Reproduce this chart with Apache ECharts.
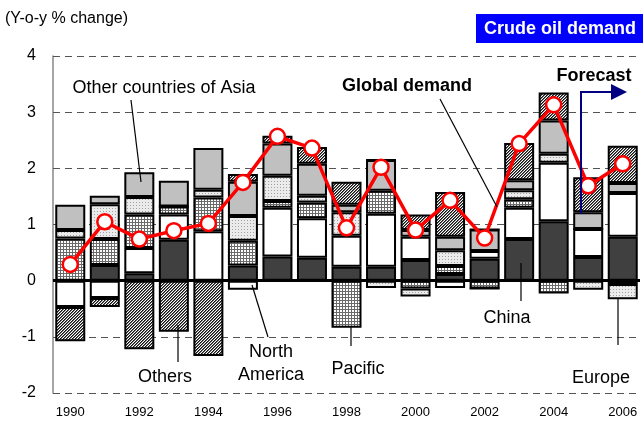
<!DOCTYPE html>
<html><head><meta charset="utf-8">
<script src="https://cdn.jsdelivr.net/npm/echarts@6/dist/echarts.min.js"></script>
<style>html,body{margin:0;padding:0;background:#fff}#c{width:643px;height:425px}</style>
</head><body><div id="c"></div>
<script>
const years = ['1990','1991','1992','1993','1994','1995','1996','1997','1998','1999','2000','2001','2002','2003','2004','2005','2006'];
const china      = [0.00, 0.28, 0.13, 0.73, 0.00, 0.27, 0.43, 0.41, 0.25, 0.25, 0.37, 0.12, 0.39, 0.74, 1.06, 0.42, 0.78];
const northAm    = [-0.47,-0.31, 0.45, 0.45, 0.88,-0.16, 0.87, 0.70, 0.55, 0.94, 0.41,-0.13, 0.14, 0.56, 1.04, 0.50, 0.78];
const pacific    = [0.75, 0.46, 0.60, 0.14, 0.60, 0.44, 0.12, 0.28,-0.84, 0.41,-0.14, 0.14,-0.14, 0.15,-0.23, 0.00,-0.06];
const europe     = [0.15, 0.62, 0.31, 0.00, 0.14, 0.44, 0.45, 0.12, 0.42,-0.13,-0.14, 0.28, 0.00, 0.16, 0.16,-0.16,-0.27];
const otherAsia  = [0.45, 0.15, 0.44, 0.46, 0.74, 0.61, 0.57, 0.57, 0.13, 0.55, 0.12, 0.24, 0.38, 0.18, 0.59, 0.30, 0.18];
const others     = [-0.61,-0.16,-1.22,-0.91,-1.34, 0.14, 0.14, 0.30, 0.41, 0.00, 0.28, 0.80, 0.00, 0.66, 0.50, 0.62, 0.66];
const globalDemand = [0.29, 1.05, 0.74, 0.89, 1.02, 1.75, 2.57, 2.36, 0.94, 2.02, 0.90, 1.43, 0.76, 2.44, 3.13, 1.69, 2.08];
const yTicks = [-2, -1, 0, 1, 2, 3, 4];

function pat(kind){
  const c = document.createElement('canvas');
  const x = c.getContext('2d');
  if(kind==='hatch'){
    c.width=3;c.height=3;
    x.fillStyle='#fff';x.fillRect(0,0,3,3);
    x.fillStyle='#111';
    [[2,0],[1,1],[0,2]].forEach(p=>x.fillRect(p[0],p[1],1,1));
    x.fillStyle='#6e6e6e';
    [[0,0],[2,1],[1,2]].forEach(p=>x.fillRect(p[0],p[1],1,1));
  } else if(kind==='grid'){
    c.width=3;c.height=3;
    x.fillStyle='#fff';x.fillRect(0,0,3,3);
    x.fillStyle='#6a6a6a';x.fillRect(0,0,3,1);x.fillRect(0,0,1,3);
  } else {
    c.width=3;c.height=3;
    x.fillStyle='#ebebeb';x.fillRect(0,0,3,3);
    x.fillStyle='#a0a0a0';x.fillRect(1,1,1,1);
  }
  return {image:c, repeat:'repeat'};
}

const chart = echarts.init(document.getElementById('c'), null, {renderer:'canvas'});
const bw = 30;
function barSeries(name, data, color){
  return {name, type:'bar', stack:'a', stackStrategy:'samesign', data, barWidth:bw,
    itemStyle:{color, borderColor:'#000', borderWidth:2}, z:2, animation:false};
}
const series = [
  barSeries('China', china, '#404040'),
  barSeries('North America', northAm, '#ffffff'),
  barSeries('Pacific', pacific, pat('grid')),
  barSeries('Europe', europe, pat('dot')),
  barSeries('Other countries of Asia', otherAsia, '#c0c0c0'),
  barSeries('Others', others, pat('hatch')),
  {name:'Global demand', type:'line', data:globalDemand, z:5, symbol:'circle', symbolSize:15,
   lineStyle:{color:'#ff0000', width:3.5}, itemStyle:{color:'#fff', borderColor:'#ff0000', borderWidth:2.5},
   animation:false,
   markLine:{silent:true, symbol:'none', label:{show:false}, data:[{yAxis:0}],
     lineStyle:{color:'#000', width:3, type:'solid'}, z:3}}
];

const F = 'Liberation Sans, Arial, sans-serif';
const lineStyle = {stroke:'#000', lineWidth:1.2};
function seg(x1,y1,x2,y2,style){return {type:'line', shape:{x1,y1,x2,y2}, style:style||lineStyle, z:10};}
function txt(x,y,t,opt){return {type:'text', x, y, style:Object.assign({text:t, font:'18px '+F, fill:'#000', textAlign:'center', textVerticalAlign:'middle'}, opt||{}), z:10};}

chart.setOption({
  animation:false,
  grid:{left:53, right:3, top:56, bottom:32},
  xAxis:{type:'category', data:years, axisLine:{show:false}, axisTick:{show:false},
    axisLabel:{interval:1, fontSize:13, fontFamily:F, color:'#000', margin:13}},
  yAxis:{type:'value', min:-2, max:4, interval:1,
    axisLine:{show:true, lineStyle:{color:'#888', width:1.5}},
    axisTick:{show:true, inside:true, length:5, lineStyle:{color:'#555'}},
    axisLabel:{fontSize:16, fontFamily:F, color:'#000', margin:17},
    splitLine:{show:true, lineStyle:{color:'#555', type:[7,5], width:1}}},
  series,
  graphic:[
    txt(5,19,'(Y-o-y % change)',{font:'16px '+F, textAlign:'left'}),
    {type:'rect', shape:{x:476,y:14,width:167,height:29}, style:{fill:'#0000ff'}, z:10},
    txt(560,29,'Crude oil demand',{font:'bold 18px '+F, fill:'#fff'}),
    txt(164,88,'Other countries of Asia'),
    seg(131,100,141,182),
    txt(407,86,'Global demand',{font:'bold 18px '+F}),
    seg(440,99,497,207),
    txt(594,76,'Forecast',{font:'bold 18px '+F}),
    {type:'polyline', shape:{points:[[581,214],[581,92],[613,92]]}, style:{stroke:'#000080', lineWidth:2, fill:null}, z:10},
    {type:'polygon', shape:{points:[[611,84],[627,92],[611,100]]}, style:{fill:'#000080'}, z:10},
    seg(521,263,521,301),
    txt(507,318,'China'),
    seg(178,325,178,362),
    txt(165,377,'Others'),
    seg(252,285,268,337),
    txt(271,352,'North'),
    txt(271,375,'America'),
    seg(351,326,351,346),
    txt(358,369,'Pacific'),
    seg(618,298,618,345),
    txt(601,378,'Europe')
  ]
});
</script></body></html>
